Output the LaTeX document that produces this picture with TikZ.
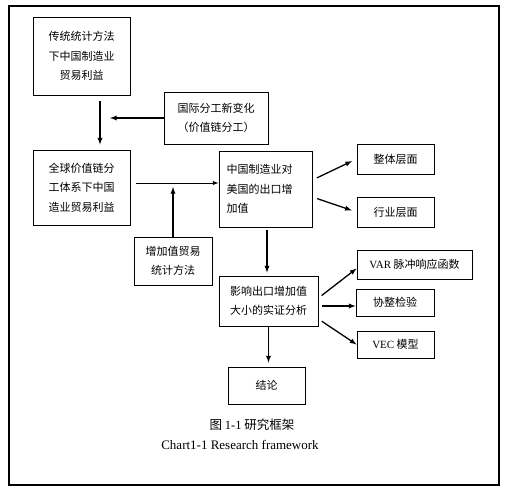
\documentclass[tikz,border=0pt]{standalone}
\usepackage{fontspec}
\setmainfont{Noto Sans CJK SC}
\newfontfamily\latin{Liberation Serif}
\usetikzlibrary{arrows}
\tikzset{>=latex}
\tikzset{box/.style = {shape=rectangle,draw,line width=0.9pt,inner sep=0pt,
  font=\fontsize{11}{19.5}\selectfont}}
\tikzset{flow/.style = {->,line width=1.3pt}}

\begin{document}
\begin{tikzpicture}[x=1pt,y=-1pt]
                \useasboundingbox (0,0) rectangle (506,490);
                \draw[line width=1.2pt] (9,6) rectangle (499,485);

                \node[box,minimum width=97pt,minimum height=78pt,align=center] (trad) at (81.5,56) {传统统计方法\\下中国制造业\\贸易利益};
                \node[box,minimum width=104pt,minimum height=52pt,align=center] (intl) at (216,118) {国际分工新变化\\（价值链分工）};
                \node[box,minimum width=97pt,minimum height=75pt,align=center] (gvc) at (81.5,187.5) {全球价值链分\\工体系下中国\\造业贸易利益};
                \node[box,minimum width=93pt,minimum height=76pt,align=left,text width=78pt] (export) at (265.5,189) {中国制造业对\\美国的出口增\\加值};
                \node[box,minimum width=78pt,minimum height=48pt,align=center] (tiva) at (173,261) {增加值贸易\\统计方法};
                \node[box,minimum width=77pt,minimum height=30pt] (whole) at (395.5,159) {整体层面};
                \node[box,minimum width=77pt,minimum height=30pt] (industry) at (395.5,212) {行业层面};
                \node[box,minimum width=99pt,minimum height=50pt,align=center] (impact) at (268.5,301) {影响出口增加值\\大小的实证分析};
                \node[box,minimum width=115pt,minimum height=29pt] (var) at (414.5,264.5) {{\latin VAR} 脉冲响应函数};
                \node[box,minimum width=78pt,minimum height=27pt] (coint) at (395,302.5) {协整检验};
                \node[box,minimum width=77pt,minimum height=27pt] (vec) at (395.5,344.5) {{\latin VEC} 模型};
                \node[box,minimum width=77pt,minimum height=37pt] (concl) at (266.5,385.5) {结论};

                \node[font=\fontsize{12.5}{14}\selectfont] (cap) at (252,425) {图 {\latin 1-1} 研究框架};
                \node[font=\latin\fontsize{13}{14}\selectfont] (capen) at (240,445) {Chart1-1 Research framework};

                \coordinate (j1) at (110,118);
                \coordinate (j2) at (173,187);

                \draw[flow,shorten <=6pt,shorten >=5pt] ([xshift=18.5pt]trad.south) -- ([xshift=18.5pt]gvc.north);
                \draw[flow] (intl.west) -- (j1);
                \draw[flow,line width=1pt,shorten <=6pt] ([yshift=4.5pt]gvc.east) -- ([yshift=6pt]export.west);
                \draw[flow] (tiva.north) -- (j2);
                \draw[flow,shorten <=5pt,shorten >=5pt] ([yshift=9pt]export.east) -- (whole.west);
                \draw[flow,shorten <=5pt,shorten >=5pt] ([yshift=-8pt]export.east) -- (industry.west);
                \draw[flow,shorten <=3pt,shorten >=3pt] ([xshift=1.5pt]export.south) -- ([xshift=-1.5pt]impact.north);
                \draw[flow,shorten <=4pt] ([yshift=3pt]impact.east) -- ([yshift=-4pt]var.west);
                \draw[flow,shorten <=4pt] ([yshift=-5pt]impact.east) -- ([yshift=-3.5pt]coint.west);
                \draw[flow,shorten <=4pt] ([yshift=-18pt]impact.east) -- (vec.west);
                \draw[flow,shorten >=4pt] (impact.south) -- (impact.south |- concl.north);
            \end{tikzpicture}
\end{document}
